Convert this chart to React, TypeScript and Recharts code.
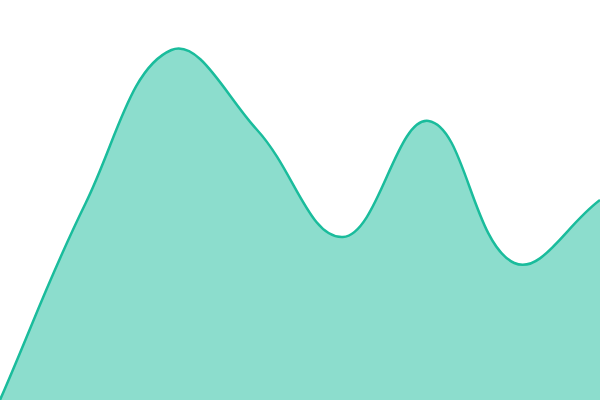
import React from "react";
import { AreaChart, Area, XAxis, YAxis } from "recharts";

const categories = ["A", "B", "C", "D", "E", "F", "G", "H"];
const values = [0, 197, 350, 270, 163, 279, 137, 200];

const data = categories.map((c, i) => ({ name: c, value: values[i] }));

const TENSION = 0.4;

class SplineCurve {
  _context: any;
  _line: number = NaN;
  _pts: number[][] = [];
  constructor(context: any) {
    this._context = context;
  }
  areaStart() {
    this._line = 0;
  }
  areaEnd() {
    this._line = NaN;
  }
  lineStart() {
    this._pts = [];
  }
  point(x: number, y: number) {
    this._pts.push([+x, +y]);
  }
  lineEnd() {
    const p = this._pts;
    const ctx = this._context;
    const n = p.length;
    if (n > 0) {
      if (this._line) ctx.lineTo(p[0][0], p[0][1]);
      else ctx.moveTo(p[0][0], p[0][1]);
    }
    if (n === 2) {
      ctx.lineTo(p[1][0], p[1][1]);
    } else if (n > 2) {
      const cps: { px: number; py: number; nx: number; ny: number }[] = [];
      for (let i = 0; i < n; i++) {
        const prev = p[Math.max(0, i - 1)];
        const cur = p[i];
        const next = p[Math.min(n - 1, i + 1)];
        const d01 = Math.hypot(cur[0] - prev[0], cur[1] - prev[1]);
        const d12 = Math.hypot(next[0] - cur[0], next[1] - cur[1]);
        let s01 = d01 / (d01 + d12);
        let s12 = d12 / (d01 + d12);
        if (!isFinite(s01)) s01 = 0;
        if (!isFinite(s12)) s12 = 0;
        const fa = TENSION * s01;
        const fb = TENSION * s12;
        cps.push({
          px: cur[0] - fa * (next[0] - prev[0]),
          py: cur[1] - fa * (next[1] - prev[1]),
          nx: cur[0] + fb * (next[0] - prev[0]),
          ny: cur[1] + fb * (next[1] - prev[1]),
        });
      }
      for (let i = 1; i < n; i++) {
        ctx.bezierCurveTo(cps[i - 1].nx, cps[i - 1].ny, cps[i].px, cps[i].py, p[i][0], p[i][1]);
      }
    }
    if (this._line || (this._line !== 0 && n === 1)) ctx.closePath();
    this._line = 1 - this._line;
  }
}

const splineFactory: any = (context: any) => new SplineCurve(context);

export default function App() {
  return (
    <div style={{ position: "fixed", top: 0, left: 0, width: 600, height: 400, background: "#fff" }}>
      <AreaChart width={600} height={400} data={data} margin={{ top: 0, right: 0, bottom: 0, left: 0 }}>
        <XAxis dataKey="name" hide padding={{ left: 0, right: 0 }} />
        <YAxis hide domain={[0, 400]} />
        <Area
          type={splineFactory}
          dataKey="value"
          stroke="#1abc9c"
          strokeWidth={2.5}
          fill="#1abc9c"
          fillOpacity={0.5}
          activeDot={false}
          dot={false}
          isAnimationActive={false}
        />
      </AreaChart>
    </div>
  );
}
